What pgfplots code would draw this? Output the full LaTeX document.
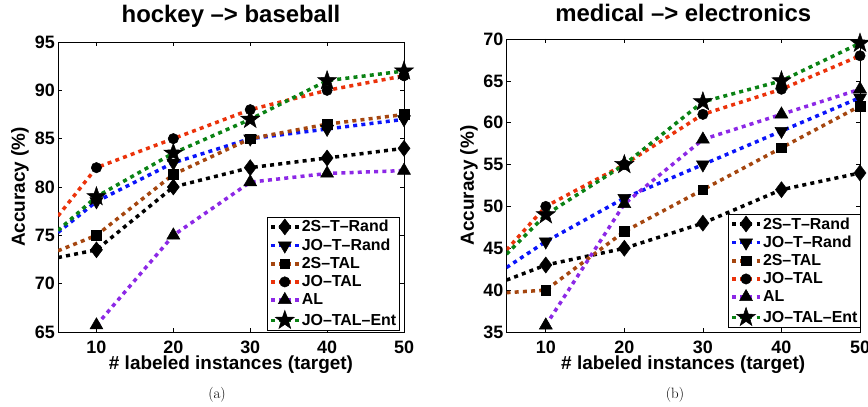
\documentclass[border=0pt]{standalone}
\usepackage{pgfplots}
\pgfplotsset{compat=1.18}
\usepackage{fontspec}
\setmainfont{Liberation Sans}
\newfontfamily\capfont{Latin Modern Roman}
\newcommand\lf{\fontsize{16}{19}\selectfont\bfseries}

\definecolor{cblue}{RGB}{10,20,250}
\definecolor{cbrown}{RGB}{165,70,15}
\definecolor{cred}{RGB}{235,50,10}
\definecolor{cpurple}{RGB}{140,40,230}
\definecolor{cgreen}{RGB}{10,130,20}

% filled five-pointed star
\pgfdeclareplotmark{fstar}{%
  \pgfpathmoveto{\pgfpointpolar{90}{\pgfplotmarksize}}%
  \pgfpathlineto{\pgfpointpolar{126}{0.40\pgfplotmarksize}}%
  \pgfpathlineto{\pgfpointpolar{162}{\pgfplotmarksize}}%
  \pgfpathlineto{\pgfpointpolar{198}{0.40\pgfplotmarksize}}%
  \pgfpathlineto{\pgfpointpolar{234}{\pgfplotmarksize}}%
  \pgfpathlineto{\pgfpointpolar{270}{0.40\pgfplotmarksize}}%
  \pgfpathlineto{\pgfpointpolar{306}{\pgfplotmarksize}}%
  \pgfpathlineto{\pgfpointpolar{342}{0.40\pgfplotmarksize}}%
  \pgfpathlineto{\pgfpointpolar{18}{\pgfplotmarksize}}%
  \pgfpathlineto{\pgfpointpolar{54}{0.40\pgfplotmarksize}}%
  \pgfpathclose
  \pgfusepathqfillstroke}

\pgfplotsset{
  acc/.style={
    scale only axis,
    anchor=south west,
    xmin=5, xmax=50,
    xtick={10,20,30,40,50},
    tick align=inside,
    major tick length=4bp,
    axis line style={line width=0.8bp},
    every tick/.style={black, line width=0.6bp},
    tick label style={font=\fontsize{18}{20}\selectfont\bfseries},
    /pgf/number format/assume math mode=true,
    xticklabel style={anchor=base, yshift=-21bp},
    yticklabel style={anchor=east, inner sep=0pt, xshift=-3bp},
    label style={font=\fontsize{19}{21}\selectfont\bfseries},
    xlabel={\# labeled instances (target)},
    ylabel={Accuracy (\%)},
    xlabel style={at={(axis description cs:0.5,0)}, anchor=base, yshift=-37bp},
    every axis title/.style={at={(axis description cs:0.5,1)}, anchor=base,
      font=\fontsize{24}{26}\selectfont\bfseries},
    legend cell align=left,
    legend style={nodes={inner sep=1.2bp},
      draw=black, line width=0.8bp, inner sep=2bp, row sep=3bp,
      anchor=south east},
    legend image code/.code={%
      \draw[#1, mark indices={2}]
        plot coordinates {(0bp,0bp)(14bp,0bp)(28bp,0bp)};},
    mark indices={2,3,4,5,6},
  },
  ser/.style={line width=3.5bp, dash pattern=on 4bp off 4.2bp,
    mark options={solid, fill=black, draw=black, line width=0.5bp}},
  s1/.style={ser, black, mark=diamond*, mark size=8bp},
  s2/.style={ser, cblue, mark=triangle*, mark size=7.5bp,
    every mark/.append style={rotate=180}},
  s3/.style={ser, cbrown, mark=square*, mark size=4.8bp},
  s4/.style={ser, cred, mark=*, mark size=5.2bp},
  s5/.style={ser, cpurple, mark=triangle*, mark size=7.5bp},
  s6/.style={ser, cgreen, mark=fstar, mark size=10bp},
}

\begin{document}
\begin{tikzpicture}[x=1bp, y=1bp]
\useasboundingbox (0,0) rectangle (868,406);

% (a) hockey -> baseball
\begin{axis}[acc,
  at={(58bp,74bp)}, width=346bp, height=290bp,
  ymin=65, ymax=95, ytick={65,70,...,95},
  title={hockey --> baseball},
  title style={yshift=19bp},
  ylabel style={at={(axis description cs:-0.11,0.5)}, anchor=center},
  legend style={at={(axis description cs:0.988,0.004)}},
]
\addplot[s1] coordinates {(5,72.7)(10,73.5)(20,80)(30,82)(40,83)(50,84)};
\addplot[s2] coordinates {(5,75.3)(10,78.5)(20,82.5)(30,85)(40,86)(50,87)};
\addplot[s3] coordinates {(5,73.4)(10,75)(20,81.3)(30,85)(40,86.5)(50,87.5)};
\addplot[s4] coordinates {(5,77)(10,82)(20,85)(30,88)(40,90)(50,91.5)};
\addplot[s5, mark indices={1,2,3,4,5}] coordinates {(10,65.7)(20,75)(30,80.5)(40,81.4)(50,81.7)};
\addplot[s6] coordinates {(5,75.5)(10,79)(20,83.5)(30,87)(40,91)(50,92)};
\legend{\lf 2S--T--Rand, \lf JO--T--Rand, \lf 2S--TAL, \lf JO--TAL, \lf AL, \lf JO--TAL--Ent}
\end{axis}

% (b) medical -> electronics
\begin{axis}[acc,
  at={(506.5bp,74bp)}, width=353.5bp, height=293bp,
  ymin=35, ymax=70, ytick={35,40,...,70},
  title={medical --> electronics},
  title style={yshift=17bp},
  ylabel style={at={(axis description cs:-0.106,0.5)}, anchor=center},
  legend style={at={(axis description cs:1.003,0.014)}},
]
\addplot[s1] coordinates {(5,41.2)(10,43)(20,45)(30,48)(40,52)(50,54)};
\addplot[s2] coordinates {(5,42.7)(10,45.8)(20,51)(30,55)(40,59)(50,63)};
\addplot[s3] coordinates {(5,39.7)(10,40)(20,47)(30,52)(40,57)(50,62)};
\addplot[s4] coordinates {(5,44.8)(10,50)(20,55)(30,61)(40,64)(50,68)};
\addplot[s5, mark indices={1,2,3,4,5}] coordinates {(10,35.8)(20,50.3)(30,58)(40,61)(50,64)};
\addplot[s6] coordinates {(5,44.3)(10,49)(20,55)(30,62.5)(40,65)(50,69.5)};
\legend{\lf 2S--T--Rand, \lf JO--T--Rand, \lf 2S--TAL, \lf JO--TAL, \lf AL, \lf JO--TAL--Ent}
\end{axis}

\node[anchor=base] at (217,8) {\capfont\fontsize{15}{17}\selectfont (a)};
\node[anchor=base] at (675,8) {\capfont\fontsize{15}{17}\selectfont (b)};
\end{tikzpicture}
\end{document}
